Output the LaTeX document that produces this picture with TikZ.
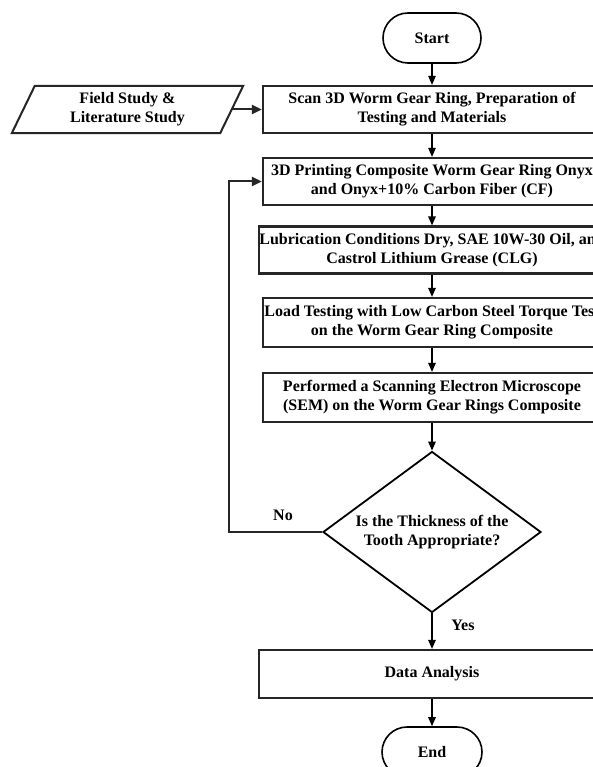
\documentclass[tikz,border=0pt]{standalone}
\usepackage{fontspec}
\setmainfont{Liberation Serif}
\usetikzlibrary{arrows.meta,shapes.geometric}
\begin{document}
\begin{tikzpicture}[x=1pt,y=-1pt,
  txt/.style={font=\bfseries\fontsize{16}{19}\selectfont},
  box/.style={txt, draw=black!85, line width=2.2pt, minimum width=338pt, minimum height=47pt, inner sep=0pt, align=center},
  term/.style={txt, draw=black, line width=1.6pt, rounded corners=25pt, minimum width=98pt, minimum height=50pt, inner sep=0pt},
  pline/.style={draw=black!85, line width=2pt, line join=miter},
  arr/.style={-{Triangle[length=9pt,width=7.5pt]}, line width=1.3pt},
  thickarr/.style={-{Triangle[length=10pt,width=9pt]}, line width=2pt, draw=black!85},
  lbl/.style={txt, inner sep=0pt}
]
\useasboundingbox (0,0) rectangle (593,767);
\clip (0,0) rectangle (593,767);
\fill[white] (0,0) rectangle (593,767);

\node[term] (start) at (432,38) {Start};
\node[box] (scan) at (432,109.5) {Scan 3D Worm Gear Ring, Preparation of\\Testing and Materials};
\node[txt, inner sep=0pt, minimum width=208pt, minimum height=47pt, align=center] (field) at (127.5,109.5) {Field Study \&\\Literature Study};
\draw[pline] ([xshift=11.5pt]field.north west) -- ([xshift=11.5pt]field.north east) -- ([xshift=-11.5pt]field.south east) -- ([xshift=-11.5pt]field.south west) -- cycle;
\node[box] (print) at (432,181.5) {3D Printing Composite Worm Gear Ring Onyx\\and Onyx+10\% Carbon Fiber (CF)};
\node[box] (lub) at (432,250) {Lubrication Conditions Dry, SAE 10W-30 Oil, and\\Castrol Lithium Grease (CLG)};
\node[box, minimum height=49pt] (load) at (432,322.5) {Load Testing with Low Carbon Steel Torque Test\\on the Worm Gear Ring Composite};
\node[box, minimum height=49pt] (sem) at (432,397.5) {Performed a Scanning Electron Microscope\\(SEM) on the Worm Gear Rings Composite};
\node[diamond, draw=black, line width=1.8pt, minimum width=218pt, minimum height=161pt, inner sep=0pt] (dec) at (432,532) {};
\node[txt, align=center, inner sep=0pt] (dectext) at (dec.center) {Is the Thickness of the\\Tooth Appropriate?};
\node[box, minimum width=346pt, minimum height=48pt] (data) at (432,674) {Data Analysis};
\node[term, minimum width=100pt] (end) at (432,752) {End};

\draw[arr] (start) -- (scan);
\draw[arr] (scan) -- (print);
\draw[arr] (print) -- (lub);
\draw[arr] (lub) -- (load);
\draw[arr] (load) -- (sem);
\draw[arr] (sem) -- (dec.north);
\draw[arr] (dec.south) -- (data);
\draw[arr] (data) -- (end);
\draw[thickarr] (field.east) -- (scan.west);
\coordinate (fb) at (229,532);
\draw[thickarr] (dec.west) -- (fb) |- (print.west);
\node[lbl] (no) at (283,515) {No};
\node[lbl] (yes) at (463,625) {Yes};
\end{tikzpicture}
\end{document}
